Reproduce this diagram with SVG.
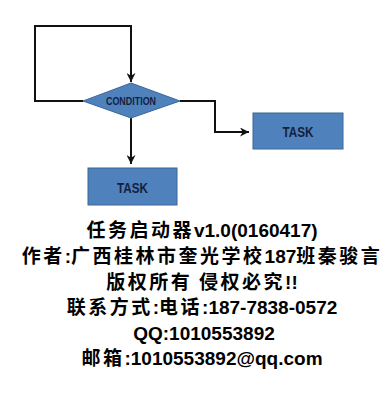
<svg xmlns="http://www.w3.org/2000/svg" width="392" height="400" viewBox="0 0 392 400">
  <style>
    .shape { fill: #4f81bd; stroke: #3c6696; stroke-width: 1; }
    .wire { fill: none; stroke: #111; stroke-width: 2; stroke-linejoin: miter; }
    .lbl { font-family: "Liberation Sans", Arial, sans-serif; font-weight: bold; fill: #14213d; text-anchor: middle; }
    .t { font-family: "Noto Sans CJK SC", "Liberation Sans", sans-serif; font-weight: bold; font-size: 19px; letter-spacing: 2.5px; fill: #000; text-anchor: middle; }
    .l { font-family: "Liberation Sans", Arial, sans-serif; font-size: 19px; letter-spacing: 0; }
  </style>
  <defs>
    <marker id="arrow" viewBox="0 0 10 10" refX="10" refY="5" markerWidth="9" markerHeight="9" markerUnits="userSpaceOnUse" orient="auto">
      <path d="M0,0 L10,5 L0,10 L3,5 z" fill="#111"/>
    </marker>
  </defs>
  <rect width="392" height="400" fill="#fff"/>

  <!-- connectors -->
  <g id="connectors">
    <path class="wire" d="M83,101 H35 V26 H131 V82" marker-end="url(#arrow)"/>
    <path class="wire" d="M180,101 H215 V132 H249" marker-end="url(#arrow)"/>
    <path class="wire" d="M131,118 V164" marker-end="url(#arrow)"/>
  </g>

  <!-- decision -->
  <g id="condition">
    <polygon class="shape" points="83,101 131,83 180,101 131,118"/>
    <text class="lbl" x="131" y="104.5" font-size="10" textLength="50" lengthAdjust="spacingAndGlyphs">CONDITION</text>
  </g>

  <!-- tasks -->
  <g id="task-right">
    <rect class="shape" x="253" y="113" width="90" height="36"/>
    <text class="lbl" x="298" y="136.5" font-size="15" textLength="31" lengthAdjust="spacingAndGlyphs">TASK</text>
  </g>
  <g id="task-bottom">
    <rect class="shape" x="88" y="168" width="89" height="37"/>
    <text class="lbl" x="132.5" y="192.5" font-size="15" textLength="31" lengthAdjust="spacingAndGlyphs">TASK</text>
  </g>

  <!-- caption -->
  <g id="caption">
    <text class="t" x="202" y="237">任务启动器<tspan class="l">v1.0(0160417)</tspan></text>
    <text class="t" x="202" y="263">作者<tspan class="l">:</tspan>广西桂林市奎光学校<tspan class="l">187</tspan>班秦骏言</text>
    <text class="t" x="202" y="289">版权所有 侵权必究<tspan class="l">!!</tspan></text>
    <text class="t" x="202" y="314">联系方式<tspan class="l">:</tspan>电话<tspan class="l">:187-7838-0572</tspan></text>
    <text class="t" x="204" y="340"><tspan class="l">QQ:1010553892</tspan></text>
    <text class="t" x="202" y="365">邮箱<tspan class="l">:1010553892@qq.com</tspan></text>
  </g>
</svg>
